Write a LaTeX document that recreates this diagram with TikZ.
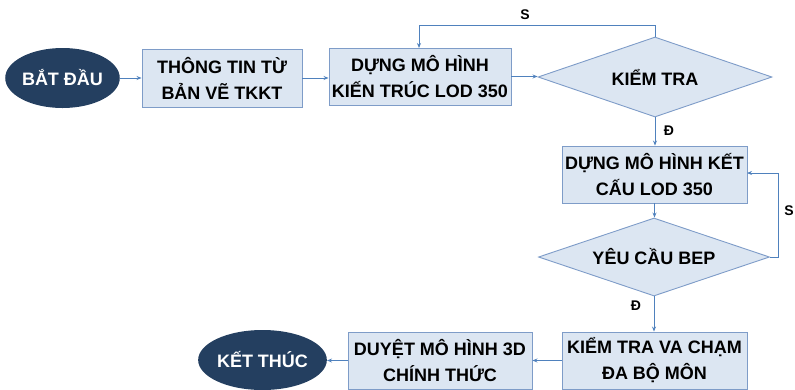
\documentclass[tikz,border=0pt]{standalone}
\usepackage{fontspec}
\setmainfont{Liberation Sans}
\usetikzlibrary{shapes.geometric,arrows.meta}
\definecolor{boxfill}{HTML}{DCE6F2}
\definecolor{boxline}{HTML}{7E9CC8}
\definecolor{flowline}{HTML}{4F81BD}
\definecolor{navy}{HTML}{243F60}
\tikzset{
  stepbox/.style={draw=boxline, line width=0.9pt, fill=boxfill, rectangle,
    inner sep=0pt, align=center, font=\fontsize{18}{26}\selectfont\bfseries},
  decision/.style={draw=boxline, line width=0.9pt, fill=boxfill, diamond,
    aspect=2.9, inner sep=0pt, align=center,
    font=\fontsize{18}{26}\selectfont\bfseries},
  terminal/.style={ellipse, fill=navy, draw=none, inner sep=0pt,
    minimum width=105pt, minimum height=60pt, text=white,
    font=\fontsize{18}{26}\selectfont\bfseries},
  flow/.style={draw=flowline, line width=0.9pt, -{Stealth[length=5pt,width=4pt]}},
  tag/.style={font=\fontsize{14}{16}\selectfont\bfseries, inner sep=0pt}
}
\begin{document}
\begin{tikzpicture}[x=1pt,y=-1pt]
\useasboundingbox (0,0) rectangle (795,389);

% main flow
\node[terminal] (start) at (62.5,78) {BẮT ĐẦU};
\node[stepbox, minimum width=160pt, minimum height=58pt] (info) at (222,78) {THÔNG TIN TỪ\\BẢN VẼ TKKT};
\node[stepbox, minimum width=182pt, minimum height=57pt] (arch) at (420,76.5) {DỰNG MÔ HÌNH\\KIẾN TRÚC LOD 350};
\node[decision, minimum width=234pt, minimum height=80pt] (check) at (655,77) {KIỂM TRA};
\node[stepbox, minimum width=185pt, minimum height=57pt] (struct) at (654.5,174.5) {DỰNG MÔ HÌNH KẾT\\CẤU LOD 350};
\node[decision, minimum width=231pt, minimum height=78pt] (bep) at (654,257) {YÊU CẦU BEP};
\node[stepbox, minimum width=185pt, minimum height=57pt] (clash) at (654.5,360.5) {KIỂM TRA VA CHẠM\\ĐA BỘ MÔN};
\node[stepbox, minimum width=184pt, minimum height=57pt] (approve) at (440,360.5) {DUYỆT MÔ HÌNH 3D\\CHÍNH THỨC};
\node[terminal] (finish) at (262.5,360) {KẾT THÚC};

% connectors
\draw[flow] (start.east) -- (start.east -| info.west);
\draw[flow] (info.east) -- (info.east -| arch.west);
\draw[flow] (arch.east) -- (arch.east -| check.west);
\draw[flow] (check.south) -- (check.south |- struct.north);
\draw[flow] (struct.south) -- (struct.south |- bep.north);
\draw[flow] (bep.south) -- (bep.south |- clash.north);
\draw[flow] (clash.west) -- (clash.west -| approve.east);
\draw[flow] (approve.west) -- (approve.west -| finish.east);

% rework loops
\coordinate (archtop) at (419,48);
\draw[flow] (check.north) -- ++(0,-11) -| (archtop);
\coordinate (structright) at (747,173);
\draw[flow] (bep.east) -- (778,257) |- (structright);

% branch labels
\node[tag] (s1) at (525,15) {S};
\node[tag] (s2) at (789,211) {S};
\node[tag] (d1) at (669,131) {Đ};
\node[tag] (d2) at (636,306) {Đ};
\end{tikzpicture}
\end{document}
